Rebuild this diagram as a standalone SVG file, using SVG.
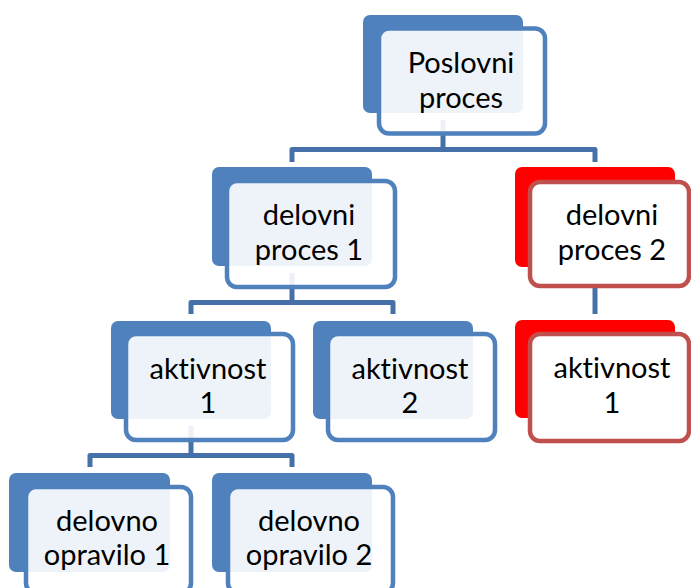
<svg xmlns="http://www.w3.org/2000/svg" width="691" height="588" viewBox="0 0 691 588">
  <style>
    .link { fill: none; stroke: #4670A8; stroke-width: 5; stroke-linejoin: round; }
    .back-blue { fill: #4F81BD; }
    .front-blue { fill: #FFFFFF; fill-opacity: 0.9; stroke: #4F81BD; stroke-width: 4.5; }
    .back-red { fill: #FF0000; }
    .front-red { fill: #FFFFFF; stroke: #C0504D; stroke-width: 4.5; }
    .label { font-family: Lato, "Liberation Sans", sans-serif; font-size: 29px; fill: #000000; text-anchor: middle; font-variant-ligatures: none; font-feature-settings: "liga" 0, "clig" 0; }
  </style>

  <!-- hierarchy connectors (drawn first, so they sit under the boxes) -->
  <g id="connectors">
    <path class="link" d="M443,120 V149.5"/>
    <path class="link" d="M292,162 V149.5 H595 V162"/>
    <path class="link" d="M292,273 V302.5"/>
    <path class="link" d="M191,314 V302.5 H393 V314"/>
    <path class="link" d="M595,272 V314"/>
    <path class="link" d="M191,426 V455.5"/>
    <path class="link" d="M90,467 V455.5 H292 V467"/>
  </g>

  <g id="poslovni-proces">
    <rect class="back-blue" x="363" y="15" width="160" height="98" rx="7"/>
    <rect class="front-blue" x="379" y="28.5" width="166" height="105" rx="10"/>
    <text class="label" x="461" y="73">Poslovni</text>
    <text class="label" x="461" y="108">proces</text>
  </g>

  <g id="delovni-proces-1">
    <rect class="back-blue" x="212" y="167" width="160" height="99" rx="7"/>
    <rect class="front-blue" x="227" y="181" width="168" height="106" rx="10"/>
    <text class="label" x="309" y="225">delovni</text>
    <text class="label" x="309" y="260">proces 1</text>
  </g>

  <g id="delovni-proces-2">
    <rect class="back-red" x="515" y="167" width="160" height="100" rx="7"/>
    <rect class="front-red" x="530" y="182" width="159" height="104" rx="10"/>
    <text class="label" x="612" y="225">delovni</text>
    <text class="label" x="612" y="260">proces 2</text>
  </g>

  <g id="aktivnost-1">
    <rect class="back-blue" x="111" y="321" width="160" height="98" rx="7"/>
    <rect class="front-blue" x="126" y="334" width="167" height="106" rx="10"/>
    <text class="label" x="208" y="379">aktivnost</text>
    <text class="label" x="208" y="413">1</text>
  </g>

  <g id="aktivnost-2">
    <rect class="back-blue" x="313" y="321" width="160" height="98" rx="7"/>
    <rect class="front-blue" x="328" y="334" width="167" height="106" rx="10"/>
    <text class="label" x="410" y="379">aktivnost</text>
    <text class="label" x="410" y="413">2</text>
  </g>

  <g id="aktivnost-1-red">
    <rect class="back-red" x="515" y="320" width="160" height="98" rx="7"/>
    <rect class="front-red" x="530" y="334" width="159" height="107" rx="10"/>
    <text class="label" x="612" y="378">aktivnost</text>
    <text class="label" x="612" y="413">1</text>
  </g>

  <g id="delovno-opravilo-1">
    <rect class="back-blue" x="9" y="473" width="161" height="99" rx="7"/>
    <rect class="front-blue" x="26" y="487" width="165" height="106" rx="10"/>
    <text class="label" x="107" y="531">delovno</text>
    <text class="label" x="107" y="565">opravilo 1</text>
  </g>

  <g id="delovno-opravilo-2">
    <rect class="back-blue" x="212" y="473" width="160" height="99" rx="7"/>
    <rect class="front-blue" x="228" y="487" width="165" height="106" rx="10"/>
    <text class="label" x="309" y="531">delovno</text>
    <text class="label" x="309" y="565">opravilo 2</text>
  </g>
</svg>
